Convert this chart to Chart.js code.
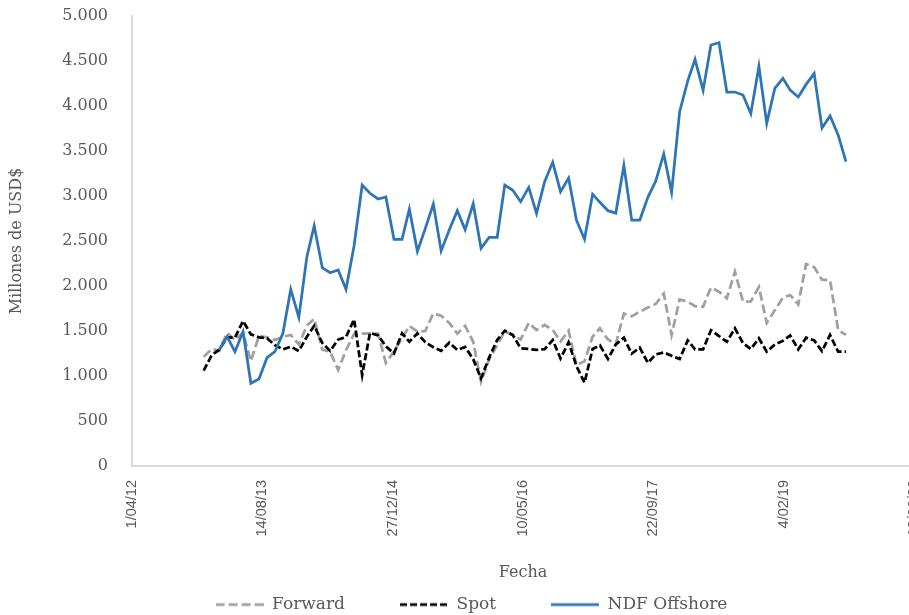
<!DOCTYPE html>
<html>
<head>
<meta charset="utf-8">
<style>
  html, body { margin: 0; padding: 0; background: #ffffff; overflow: hidden; }
  #wrap { width: 920px; height: 623px; }
</style>
<script src="https://cdn.jsdelivr.net/npm/chart.js@4.4.1/dist/chart.umd.min.js"></script>
</head>
<body>
<div id="wrap"><canvas id="c" width="920" height="623"></canvas></div>
<script>
// Monthly observations (first day of each month)
const months = [
  '2013-01','2013-02','2013-03','2013-04','2013-05','2013-06','2013-07','2013-08','2013-09','2013-10','2013-11','2013-12',
  '2014-01','2014-02','2014-03','2014-04','2014-05','2014-06','2014-07','2014-08','2014-09','2014-10','2014-11','2014-12',
  '2015-01','2015-02','2015-03','2015-04','2015-05','2015-06','2015-07','2015-08','2015-09','2015-10','2015-11','2015-12',
  '2016-01','2016-02','2016-03','2016-04','2016-05','2016-06','2016-07','2016-08','2016-09','2016-10','2016-11','2016-12',
  '2017-01','2017-02','2017-03','2017-04','2017-05','2017-06','2017-07','2017-08','2017-09','2017-10','2017-11','2017-12',
  '2018-01','2018-02','2018-03','2018-04','2018-05','2018-06','2018-07','2018-08','2018-09','2018-10','2018-11','2018-12',
  '2019-01','2019-02','2019-03','2019-04','2019-05','2019-06','2019-07','2019-08','2019-09','2019-10'
];

// Millones de USD$
const forward = [
  1215,1300,1280,1480,1400,1480,1165,1445,1430,1400,1437,1456,
  1350,1560,1636,1292,1270,1067,1289,1465,1470,1474,1470,1145,
  1275,1420,1555,1493,1500,1696,1670,1590,1470,1556,1380,937,
  1180,1345,1495,1455,1405,1590,1511,1567,1511,1385,1504,1122,
  1165,1437,1530,1405,1358,1693,1663,1715,1760,1800,1915,1456,
  1850,1826,1775,1770,1983,1937,1863,2159,1826,1830,1988,1590,
  1730,1870,1900,1795,2244,2210,2070,2063,1511,1456
];

const spot = [
  1059,1233,1289,1430,1425,1611,1463,1430,1419,1344,1296,1326,
  1278,1437,1559,1366,1278,1405,1433,1630,1011,1480,1450,1330,
  1250,1474,1381,1474,1375,1320,1280,1370,1289,1322,1187,974,
  1205,1400,1504,1456,1307,1300,1290,1298,1400,1195,1375,1110,
  926,1300,1340,1190,1350,1425,1248,1315,1146,1240,1262,1225,
  1190,1397,1296,1296,1508,1444,1381,1530,1366,1300,1419,1270,
  1350,1390,1450,1296,1425,1396,1276,1456,1270,1270
];

const ndfOffshore = [
  null,null,1289,1437,1270,1493,919,967,1204,1270,1474,1963,
  1652,2326,2670,2204,2148,2178,1963,2448,3122,3030,2967,2989,
  2519,2519,2856,2385,2637,2911,2390,2622,2837,2626,2915,2419,
  2541,2541,3122,3063,2937,3096,2807,3159,3375,3048,3200,2733,
  2520,3020,2930,2837,2810,3340,2733,2733,2985,3165,3467,3041,
  3937,4280,4519,4175,4678,4704,4155,4155,4122,3915,4440,3807,
  4196,4307,4178,4100,4240,4360,3755,3889,3678,3381
];

// Date axis in spreadsheet day serials: 1/04/12 .. 18/06/20, one tick every 500 days
const xAxisStart = 41000;
const xAxisEnd = 44000;
const xAxisStep = 500;

const yAxisMax = 5000;
const yAxisStep = 500;

const EPOCH = Date.UTC(1899, 11, 30);
const DAY = 86400000;

function toSerial(m) {
  const parts = m.split('-').map(Number);
  return (Date.UTC(parts[0], parts[1] - 1, 1) - EPOCH) / DAY;
}
function fmtDate(serial) {
  const d = new Date(EPOCH + serial * DAY);
  return d.getUTCDate() + '/' + String(d.getUTCMonth() + 1).padStart(2, '0') + '/' + String(d.getUTCFullYear()).slice(2);
}
function fmtNum(v) {
  return String(v).replace(/\B(?=(\d{3})+(?!\d))/g, '.');
}
function series(values) {
  return months.map((m, i) => ({ x: toSerial(m), y: values[i] }));
}

// Small line swatches for the legend, keeping each series' dash pattern
function swatch(color, dash, width) {
  const c = document.createElement('canvas');
  c.width = 48; c.height = 8;
  const g = c.getContext('2d');
  g.strokeStyle = color;
  g.lineWidth = width;
  g.setLineDash(dash);
  g.beginPath();
  g.moveTo(0, 4);
  g.lineTo(48, 4);
  g.stroke();
  return c;
}

const PAD_LEFT = 23;
const PLOT_LEFT = 132;
const PLOT_TOP = 16;
const TEXT = '#595959';
const AXIS_LINE = '#D9D9D9';

const styles = [
  { color: '#A0A0A0', dash: [9, 4] },
  { color: '#000000', dash: [7, 3] },
  { color: '#2E75B6', dash: [] }
];
const swatches = styles.map(s => swatch(s.color, s.dash, 2.75));

new Chart(document.getElementById('c'), {
  type: 'line',
  data: {
    datasets: [
      { label: 'Forward', data: series(forward), borderColor: styles[0].color, backgroundColor: styles[0].color,
        borderWidth: 2.75, borderDash: styles[0].dash, pointRadius: 0, order: 2 },
      { label: 'Spot', data: series(spot), borderColor: styles[1].color, backgroundColor: styles[1].color,
        borderWidth: 2.75, borderDash: styles[1].dash, pointRadius: 0, order: 1 },
      { label: 'NDF Offshore', data: series(ndfOffshore), borderColor: styles[2].color, backgroundColor: styles[2].color,
        borderWidth: 2.75, pointRadius: 0, order: 0 }
    ]
  },
  options: {
    responsive: false,
    animation: false,
    layout: { padding: { left: PAD_LEFT, right: 0, top: 0, bottom: 0 } },
    plugins: {
      legend: {
        position: 'bottom',
        labels: {
          usePointStyle: true,
          pointStyleWidth: 48,
          padding: 55,
          color: TEXT,
          font: { family: 'DejaVu Serif', size: 17 },
          generateLabels: (chart) =>
            Chart.defaults.plugins.legend.labels.generateLabels(chart)
              .map(item => Object.assign(item, { pointStyle: swatches[item.datasetIndex] })),
          sort: (a, b) => a.datasetIndex - b.datasetIndex
        }
      },
      tooltip: { enabled: false }
    },
    scales: {
      x: {
        type: 'linear',
        min: xAxisStart,
        max: xAxisEnd,
        grid: { display: false, drawTicks: false },
        border: { display: true, color: AXIS_LINE, width: 2 },
        ticks: {
          stepSize: xAxisStep,
          autoSkip: false,
          maxRotation: 90,
          minRotation: 90,
          padding: 14,
          color: TEXT,
          font: { family: 'Liberation Sans', size: 14.5 },
          callback: (v) => fmtDate(v)
        },
        title: {
          display: true,
          text: 'Fecha',
          color: TEXT,
          font: { family: 'DejaVu Serif', size: 16 },
          padding: { top: 0, bottom: -41.6 }
        },
        afterFit: (s) => { s.height = 75; s.paddingLeft = 0; s.paddingRight = 6; }
      },
      y: {
        min: 0,
        max: yAxisMax,
        grid: { display: false, drawTicks: false },
        border: { display: true, color: AXIS_LINE, width: 2 },
        ticks: {
          stepSize: yAxisStep,
          autoSkip: false,
          padding: 24,
          color: TEXT,
          font: { family: 'DejaVu Serif', size: 16 },
          callback: (v) => fmtNum(v)
        },
        title: {
          display: true,
          text: 'Millones de USD$',
          color: TEXT,
          font: { family: 'DejaVu Serif', size: 16 },
          padding: { top: -15.6, bottom: 0 }
        },
        afterFit: (s) => { s.width = PLOT_LEFT - PAD_LEFT; s.paddingTop = PLOT_TOP; s.paddingBottom = 0; }
      }
    }
  }
});
</script>
</body>
</html>
